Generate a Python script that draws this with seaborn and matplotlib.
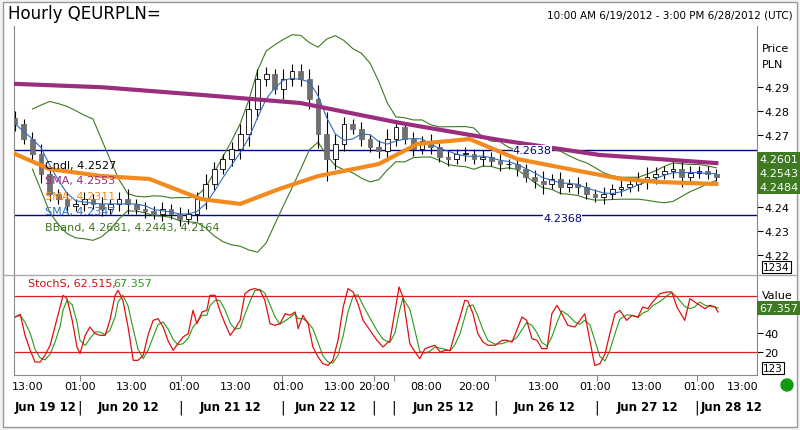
import numpy as np
import pandas as pd
import matplotlib
matplotlib.use("Agg")
import matplotlib.pyplot as plt
from matplotlib.patches import Ellipse
import seaborn as sns

# 2-hour candles, hour index from 10:00 6/19 (trading hours only)
closes = [4.2746, 4.2683, 4.2621, 4.2538, 4.2454, 4.2433, 4.2404, 4.2413, 4.2433, 4.2413,
          4.2392, 4.2413, 4.2433, 4.2413, 4.2392, 4.2383, 4.2371, 4.2392, 4.2371, 4.2350,
          4.2371, 4.2433, 4.2496, 4.2558, 4.2600, 4.2642, 4.2704, 4.2808, 4.2933, 4.2954,
          4.2892, 4.2933, 4.2967, 4.2933, 4.2850, 4.2704, 4.2600, 4.2663, 4.2746, 4.2725,
          4.2683, 4.2650, 4.2633, 4.2683, 4.2733, 4.2683, 4.2642, 4.2675, 4.2650, 4.2608,
          4.2600, 4.2621, 4.2621, 4.2600, 4.2608, 4.2592, 4.2579, 4.2579, 4.2558, 4.2525,
          4.2508, 4.2496, 4.2517, 4.2483, 4.2496, 4.2483, 4.2454, 4.2442, 4.2454, 4.2475,
          4.2483, 4.2496, 4.2517, 4.2525, 4.2538, 4.2550, 4.2558, 4.2525, 4.2542, 4.2550,
          4.2538, 4.2527]
wicks = [0.003, 0.002, 0.003, 0.004, 0.003, 0.002, 0.003, 0.002, 0.003, 0.002,
         0.003, 0.002, 0.003, 0.004, 0.002, 0.003, 0.002, 0.003, 0.002, 0.003,
         0.002, 0.003, 0.004, 0.003, 0.002, 0.003, 0.004, 0.005, 0.004, 0.003,
         0.002, 0.004, 0.003, 0.003, 0.004, 0.006, 0.009, 0.004, 0.003, 0.002,
         0.003, 0.002, 0.003, 0.004, 0.003, 0.002, 0.003, 0.002, 0.003, 0.002,
         0.003, 0.002, 0.003, 0.002, 0.003, 0.002, 0.003, 0.002, 0.003, 0.002,
         0.003, 0.004, 0.002, 0.003, 0.002, 0.003, 0.002, 0.002, 0.003, 0.002,
         0.003, 0.002, 0.003, 0.004, 0.003, 0.002, 0.003, 0.004, 0.003, 0.002,
         0.002, 0.002]

# long SMA (purple) and mid SMA (orange) read at sample hours
sma_long_h = [0, 20, 43, 66, 89, 112, 135, 162]
sma_long = [4.2913, 4.2899, 4.2867, 4.2833, 4.2750, 4.2679, 4.2617, 4.2583]
sma_mid_h = [0, 8, 20, 31, 43, 52, 61, 70, 84, 93, 105, 116, 128, 140, 149, 162]
sma_mid = [4.2621, 4.2558, 4.2529, 4.2517, 4.2433, 4.2413, 4.2475, 4.2529, 4.2579, 4.2663,
           4.2683, 4.2600, 4.2558, 4.2517, 4.2504, 4.2496]

# stochastic %K
stoch_h = [0, 1.2, 2.3, 3.5, 4.6, 5.8, 6.9, 8.1, 9.2, 10.4, 11.1, 12, 13.2, 14.3, 15, 16.2,
           17.3, 18.5, 19.6, 20.8, 21.9, 23.1, 23.8, 24.9, 26.1, 27.3, 28.4, 29.6, 30.7, 31.9,
           33, 34.2, 35.3, 36.5, 37.6, 38.8, 40, 41.1, 42, 43.2, 44.3, 45, 46.2, 47.3, 48.5,
           49.7, 50.8, 52, 53.1, 54.3, 55.4, 56.6, 57.7, 58.9, 60, 61.2, 62.4, 63.5, 64.7,
           65.4, 66.5, 67.7, 68.8, 70, 71.1, 72.3, 73.4, 74.6, 75.8, 76.9, 78.1, 79.2, 80.4,
           82, 83.6, 85, 86.6, 87.8, 88.7, 89.6, 91.2, 92.4, 93.5, 94.7, 95.8, 97, 98.2, 99.3,
           100.5, 101.6, 102.8, 103.9, 104.6, 105.8, 106.9, 108.1, 109.2, 110.9, 112.5, 113.6,
           114.8, 115.9, 117.1, 118.2, 119.4, 120.6, 121.7, 122.9, 124, 125.2, 126.3, 127.7,
           129.3, 130.5, 131.6, 132.8, 133.9, 135.1, 136.3, 137.4, 138.6, 139.7, 141.3, 142.5,
           143.9, 145, 146.2, 147.3, 149, 150.6, 151.7, 152.9, 154.7, 155.9, 157, 158.2,
           159.4, 160.5, 161.7, 162.4]
stoch_k = [57.5, 60.4, 37.9, 21.8, 9.3, 9.3, 16.5, 27.2, 46.8, 68.2, 80.7, 77.1, 53.9, 25.4,
           18.2, 37.9, 46.8, 39.7, 37.9, 37.9, 53.9, 80.7, 86.1, 75.4, 46.8, 11.1, 11.1, 16.5,
           37.9, 53.9, 55.7, 46.8, 32.5, 21.8, 28.9, 36.1, 39.7, 64.6, 50.4, 62.9, 64.6, 80.7,
           80.7, 64.6, 50.4, 37.9, 45.0, 53.9, 82.5, 86.8, 87.9, 86.1, 75.4, 50.4, 48.6, 50.4,
           61.1, 59.3, 62.9, 45.0, 59.3, 50.4, 25.4, 14.7, 7.5, 5.7, 11.1, 32.5, 68.2, 87.9,
           84.3, 71.8, 53.9, 43.2, 32.5, 25.4, 32.5, 64.6, 89.6, 78.9, 28.9, 20.0, 12.9, 23.6,
           25.4, 27.2, 20.0, 21.8, 21.8, 39.7, 57.5, 75.4, 74.6, 61.1, 39.7, 30.7, 27.2, 27.2,
           32.5, 32.5, 30.7, 43.2, 57.5, 53.9, 34.3, 32.5, 23.6, 23.6, 61.1, 70.0, 61.1, 48.6,
           46.8, 53.9, 61.1, 32.5, 5.7, 7.5, 18.2, 39.7, 61.1, 64.6, 53.9, 59.3, 57.5, 68.2,
           66.4, 73.6, 82.5, 84.3, 84.3, 68.2, 53.9, 77.1, 73.6, 70.0, 66.4, 70.0, 68.2, 62.9]

hline_hi, hline_lo = 4.2638, 4.2368
tick_hours = [3, 15, 27, 39, 51, 63, 75, 83, 95, 106, 122, 134, 146, 158, 168]
tick_labels = ["13:00", "01:00", "13:00", "01:00", "13:00", "01:00", "13:00", "20:00",
               "08:00", "20:00", "13:00", "01:00", "13:00", "01:00", "13:00"]
sep_hours = [15, 38.3, 61.7, 82.9, 87.5, 110.9, 134.4, 157.5]
date_hours = [7, 26.3, 49.7, 71.8, 99, 122.4, 146, 165.6]
date_labels = ["Jun 19 12", "Jun 20 12", "Jun 21 12", "Jun 22 12", "Jun 25 12",
               "Jun 26 12", "Jun 27 12", "Jun 28 12"]

df = pd.DataFrame({"close": closes, "wick": wicks})
df["hour"] = np.arange(len(df)) * 2
df["open"] = df["close"].shift(1).fillna(4.2770)
df["high"] = df[["open", "close"]].max(axis=1) + df["wick"]
df["low"] = df[["open", "close"]].min(axis=1) - df["wick"]
df["sma_short"] = df["close"].rolling(4, min_periods=1).mean()
mid = df["close"].rolling(10, min_periods=3).mean()
sd = df["close"].rolling(10, min_periods=3).std()
df["bb_up"] = mid + 2 * sd
df["bb_lo"] = mid - 2 * sd

st = pd.DataFrame({"hour": stoch_h, "k": stoch_k})
st["d"] = st["k"].rolling(3, min_periods=1).mean()

W, H = 800, 431
fig = plt.figure(figsize=(8, 4.31), dpi=100)
fig.patch.set_facecolor("#f2f2f2")
fig.patches.append(plt.Rectangle((3 / W, 3 / H), 794 / W, 425 / H, transform=fig.transFigure,
                                 facecolor="white", edgecolor="#999999", lw=1, zorder=-10))


def box(l, t, r, b):
    return [l / W, 1 - b / H, (r - l) / W, (b - t) / H]


ax = fig.add_axes(box(14, 27, 757, 275))
ax2 = fig.add_axes(box(14, 277, 757, 376))
ax.patch.set_alpha(0)
ax2.patch.set_alpha(0)
xlim = (-0.25, 171.4)

# candles
for _, r in df.iterrows():
    up = r["close"] >= r["open"]
    ax.vlines(r["hour"], r["low"], r["high"], color="black", lw=0.8, zorder=3)
    ax.bar(r["hour"], max(abs(r["close"] - r["open"]), 0.0002), bottom=min(r["open"], r["close"]),
           width=1.1, color="white" if up else "#707070", edgecolor="black" if up else "#707070",
           lw=0.6, zorder=4)

sns.lineplot(x=df["hour"], y=df["bb_up"], ax=ax, color="#3c7a1e", lw=0.8, zorder=2)
sns.lineplot(x=df["hour"], y=df["bb_lo"], ax=ax, color="#3c7a1e", lw=0.8, zorder=2)
sns.lineplot(x=df["hour"], y=df["sma_short"], ax=ax, color="#2f6fc0", lw=0.8, zorder=5)
sns.lineplot(x=sma_long_h, y=sma_long, ax=ax, color="#9b2d7f", lw=3, zorder=5)
sns.lineplot(x=sma_mid_h, y=sma_mid, ax=ax, color="#f28a1e", lw=3, zorder=6)
ax.axhline(hline_hi, color="#000080", lw=1, zorder=1)
ax.axhline(hline_lo, color="#000080", lw=1, zorder=1)
ax.text(115, hline_hi, "4.2638", fontsize=8, color="#000080", va="center",
        bbox=dict(fc="white", ec="none", pad=0), zorder=7)
ax.text(122, hline_lo - 0.0013, "4.2368", fontsize=8, color="#000080", va="center",
        bbox=dict(fc="white", ec="none", pad=0), zorder=7)

ax.set_xlim(*xlim)
ax.set_ylim(4.2121, 4.3154)
ax.set_xticks([])
ax.yaxis.tick_right()
ax.set_yticks([4.22, 4.23, 4.24, 4.27, 4.28, 4.29])
ax.set_yticklabels(["4.22", "4.23", "4.24", "4.27", "4.28", "4.29"], fontsize=8)
ax.tick_params(axis="y", direction="out", length=4, pad=1)
ax.set_xlabel("")
ax.set_ylabel("")
for s in ["top", "bottom"]:
    ax.spines[s].set_visible(False)
ax.spines["right"].set_color("#888888")
ax.spines["left"].set_color("#888888")

legend = [("Cndl, 4.2527", "black"), ("SMA, 4.2553", "#9b2d7f"), ("SMA, 4.2311", "#f28a1e"),
          ("SMA, 4.2347", "#2f6fc0"), ("BBand, 4.2681, 4.2443, 4.2164", "#3c7a1e")]
for i, (t, c) in enumerate(legend):
    fig.text(45 / W, 1 - (166 + 15.5 * i) / H, t, fontsize=8, color=c, va="center", zorder=10)

for v, yy in [("4.2601", 160), ("4.2543", 174), ("4.2484", 188)]:
    fig.text(759 / W, 1 - yy / H, v, fontsize=8, color="white", va="center",
             bbox=dict(fc="#3d7a22", ec="none", pad=1.2))
fig.text(763 / W, 1 - 268 / H, "1234", fontsize=7.5, va="center",
         bbox=dict(fc="white", ec="black", pad=0.8, lw=0.8))
fig.text(762 / W, 1 - 52 / H, "Price", fontsize=8)
fig.text(762 / W, 1 - 68 / H, "PLN", fontsize=8)

# stochastic
sns.lineplot(x=st["hour"], y=st["d"], ax=ax2, color="#2a9a18", lw=0.8)
sns.lineplot(x=st["hour"], y=st["k"], ax=ax2, color="#e01010", lw=0.9)
ax2.axhline(80, color="#d02020", lw=0.9)
ax2.axhline(20, color="#d02020", lw=0.9)
ax2.set_xlim(*xlim)
ax2.set_ylim(-4.6, 101.4)
ax2.yaxis.tick_right()
ax2.set_yticks([20, 40])
ax2.set_yticklabels(["20", "40"], fontsize=8)
ax2.tick_params(axis="y", direction="out", length=4, pad=1)
ax2.set_xticks(tick_hours)
ax2.set_xticklabels(tick_labels, fontsize=8)
ax2.tick_params(axis="x", length=0, pad=4)
ax2.set_xlabel("")
ax2.set_ylabel("")
ax2.spines["top"].set_visible(False)
for s in ["right", "left", "bottom"]:
    ax2.spines[s].set_color("#888888")
fig.lines.append(plt.Line2D([3 / W, 797 / W], [1 - 276 / H] * 2, transform=fig.transFigure,
                            color="#aaaaaa", lw=1))
fig.text(28 / W, 1 - 284 / H, "StochS, 62.515,", fontsize=8, color="#d01010", va="center")
fig.text(113 / W, 1 - 284 / H, "67.357", fontsize=8, color="#2a9a18", va="center")
fig.text(762 / W, 1 - 299 / H, "Value", fontsize=8)
fig.text(759 / W, 1 - 309 / H, "67.357", fontsize=8, color="white", va="center",
         bbox=dict(fc="#3d7a22", ec="none", pad=1.2))
fig.text(763 / W, 1 - 369 / H, "123", fontsize=7.5, va="center",
         bbox=dict(fc="white", ec="black", pad=0.8, lw=0.8))
fig.patches.append(Ellipse((787 / W, 1 - 386 / H), 12 / W, 12 / H, transform=fig.transFigure,
                           color="#119911"))

xt = ax2.get_xaxis_transform()
for hr, t in zip(date_hours, date_labels):
    ax2.text(hr, -0.32, t, transform=xt, fontsize=8.5, fontweight="bold",
             ha="center", va="center")
for hr in sep_hours:
    ax2.text(hr, -0.32, "|", transform=xt, fontsize=10, ha="center", va="center")
    ax2.vlines(hr, -0.06, 0, transform=xt, color="#888888", lw=0.8, clip_on=False)

fig.text(8 / W, 1 - 14 / H, "Hourly QEURPLN=", fontsize=12, va="center")
fig.text(793 / W, 1 - 16 / H, "10:00 AM 6/19/2012 - 3:00 PM 6/28/2012 (UTC)", fontsize=7.5,
         ha="right", va="center")

fig.savefig("out.png", dpi=100)
